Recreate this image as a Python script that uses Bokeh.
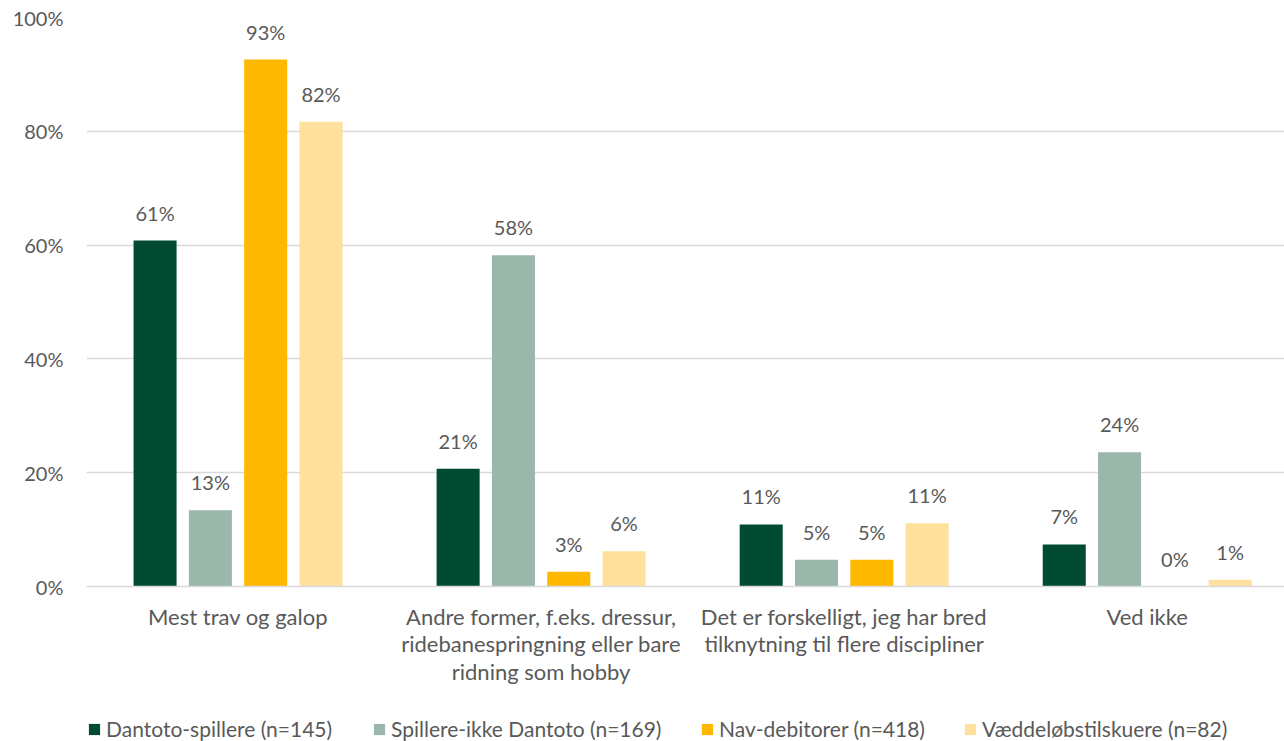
from bokeh.plotting import figure
from bokeh.models import (ColumnDataSource, Range1d, FixedTicker, Legend, LegendItem)
from bokeh.layouts import column
from bokeh.core.properties import value
from bokeh.embed import file_html
from bokeh.resources import INLINE

# Survey answers: which horse-sport discipline respondents follow
categories = [
    "Mest trav og galop",
    "Andre former, f.eks. dressur,\nridebanespringning eller bare\nridning som hobby",
    "Det er forskelligt, jeg har bred\ntilknytning til flere discipliner",
    "Ved ikke",
]
series_names = [
    "Dantoto-spillere (n=145)",
    "Spillere-ikke Dantoto (n=169)",
    "Nav-debitorer (n=418)",
    "Væddeløbstilskuere (n=82)",
]
dantoto = [60.8, 20.7, 10.9, 7.4]
ikke_dantoto = [13.4, 58.2, 4.7, 23.6]
nav_debitorer = [92.6, 2.6, 4.7, 0.0]
tilskuere = [81.7, 6.2, 11.1, 1.2]
y_ticks = [0, 20, 40, 60, 80, 100]

series_values = [dantoto, ikke_dantoto, nav_debitorer, tilskuere]
colors = ["#004B32", "#9BB7AC", "#FFB800", "#FFE09C"]

FONT = "Lato"
TEXT = "#595959"

p = figure(frame_width=1198, frame_height=569, output_backend="svg",
           toolbar_location=None, x_range=Range1d(0, 3.953), y_range=Range1d(0, 100),
           min_border_left=86, min_border_top=17, min_border_right=0,
           min_border_bottom=125, background_fill_color="white",
           border_fill_color="white", outline_line_color=None)

group_centers = [i + 0.5 for i in range(len(categories))]
step = 0.1825
bar_w = 0.142
for k, (name, vals, col) in enumerate(zip(series_names, series_values, colors)):
    off = (k - 1.5) * step
    src = ColumnDataSource(dict(
        x=[c + off for c in group_centers],
        top=vals,
        label=[f"{int(v + 0.5)}%" for v in vals],
    ))
    p.vbar(x="x", top="top", width=bar_w, source=src, fill_color=col,
           line_color=None)
    p.text(x="x", y="top", text="label", source=src, text_align="center",
           text_baseline="bottom", y_offset=-16, text_font=value(FONT),
           text_font_size="20px", text_color=TEXT)

# axes
p.yaxis.ticker = FixedTicker(ticks=y_ticks)
p.yaxis.major_label_overrides = {t: f"{t}%" for t in y_ticks}
p.yaxis.axis_line_color = None
p.yaxis.major_tick_line_color = None
p.yaxis.minor_tick_line_color = None
p.yaxis.major_tick_out = 0
p.yaxis.major_label_standoff = 23
p.yaxis.major_label_text_font = FONT
p.yaxis.major_label_text_font_size = "20px"
p.yaxis.major_label_text_color = TEXT

p.xaxis.ticker = FixedTicker(ticks=group_centers)
p.xaxis.major_label_overrides = {c: lab for c, lab in zip(group_centers, categories)}
p.xaxis.axis_line_color = "#D9D9D9"
p.xaxis.axis_line_width = 1.5
p.xaxis.major_tick_line_color = None
p.xaxis.minor_tick_line_color = None
p.xaxis.major_tick_out = 0
p.xaxis.major_label_standoff = 16
p.xaxis.major_label_text_font = FONT
p.xaxis.major_label_text_font_size = "22px"
p.xaxis.major_label_text_line_height = 1.03
p.xaxis.major_label_text_color = TEXT

p.xgrid.grid_line_color = None
p.ygrid.ticker = FixedTicker(ticks=y_ticks)
p.ygrid.grid_line_color = "#D9D9D9"
p.ygrid.grid_line_width = 1.5

# legend strip under the chart (its frame lines up with the chart frame at x=86)
lf = figure(width=1284, height=30, output_backend="svg", toolbar_location=None,
            x_range=Range1d(0, 1), y_range=Range1d(0, 1),
            min_border=0, outline_line_color=None,
            background_fill_color="white", border_fill_color="white")
lf.axis.visible = False
lf.grid.visible = False
legend_x = [1, 286, 614, 877]
for name, col, lx in zip(series_names, colors, legend_x):
    # swatch renderer kept outside the visible range; only its legend entry shows
    r = lf.vbar(x=[5], top=[0.5], width=0.1, fill_color=col, line_color=None)
    lg = Legend(items=[LegendItem(label=name, renderers=[r])], location=(lx, 0),
                glyph_width=14, glyph_height=14, label_standoff=5,
                padding=0, margin=0, border_line_color=None,
                label_text_font=FONT, label_text_font_size="21px",
                label_height=20, label_text_baseline="middle",
                label_text_color=TEXT, background_fill_alpha=0)
    lf.add_layout(lg, "center")

open("out.html", "w").write(file_html(column(p, lf, spacing=0), INLINE))
